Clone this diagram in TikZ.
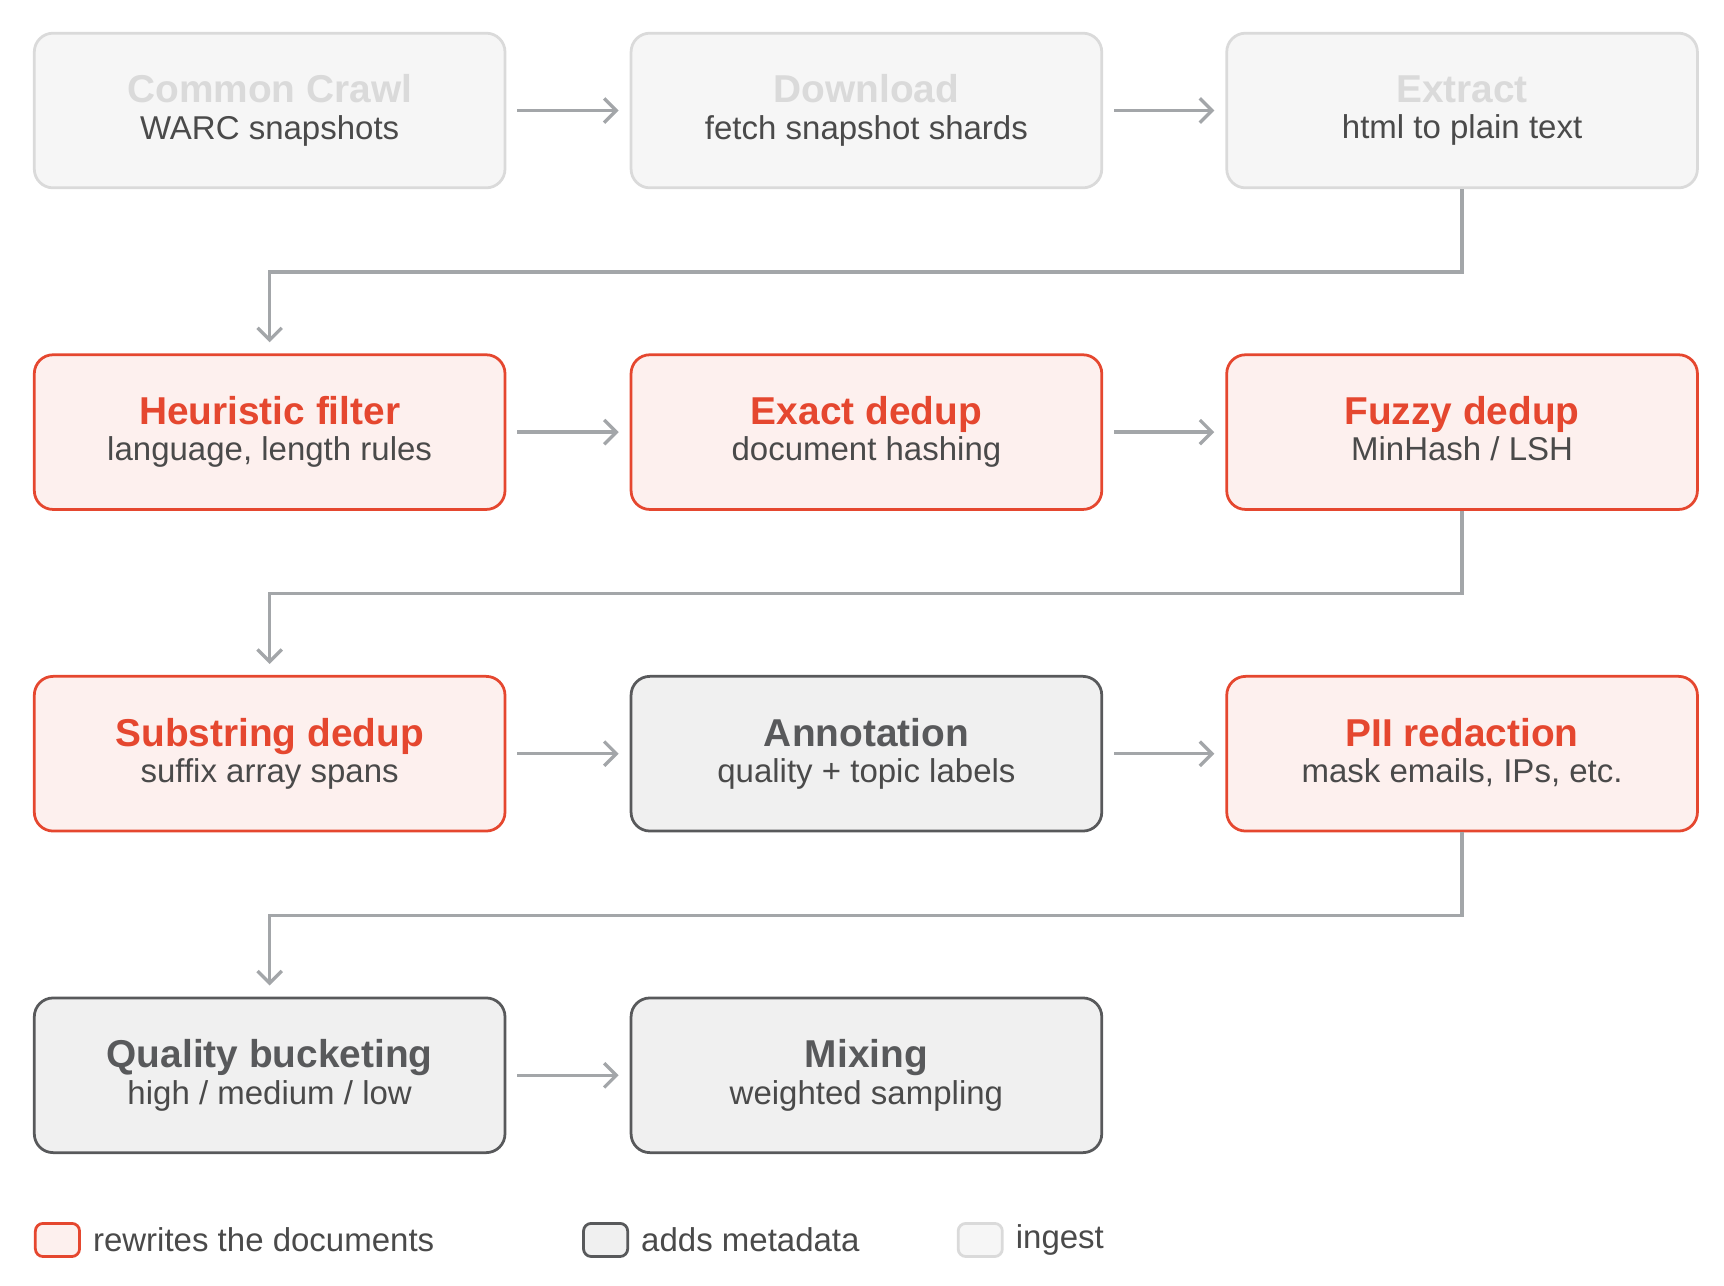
\documentclass[tikz,border=0pt]{standalone}
\usepackage{fontspec}
\setmainfont{Liberation Sans}
\usetikzlibrary{arrows.meta}
\definecolor{rwline}{HTML}{E5472F}
\definecolor{rwfill}{HTML}{FDF0EE}
\definecolor{mdline}{HTML}{58595B}
\definecolor{mdfill}{HTML}{F0F0F0}
\definecolor{inline}{HTML}{DADADA}
\definecolor{infill}{HTML}{F6F6F6}
\definecolor{wire}{HTML}{A3A6A9}
\definecolor{subtxt}{HTML}{4A4A4A}
\tikzset{
  stage/.style={draw, line width=0.05cm, rounded corners=0.34cm,
    minimum width=8.52cm, minimum height=2.8cm, inner sep=0cm},
  rewrite/.style={stage, color=rwline, fill=rwfill},
  meta/.style={stage, color=mdline, fill=mdfill},
  ingest/.style={stage, color=inline, fill=infill},
  flow/.style={draw=wire, line width=0.06cm, -{Straight Barb[length=0.22cm,width=0.44cm]}},
  key/.style={draw, line width=0.05cm, rounded corners=0.14cm, minimum width=0.8cm, minimum height=0.6cm},
}
\newcommand{\stagetext}[2]{\begin{tabular}{c}{\fontsize{20}{24}\selectfont\textbf{#1}}\\[0.1cm]{\fontsize{17}{20}\selectfont\color{subtxt}#2}\end{tabular}}
\begin{document}
\begin{tikzpicture}[x=0.02cm, y=-0.02cm]
\useasboundingbox (0,0) rectangle (1560,1163);

% row 1
\node[ingest] (crawl) at (244,100) {\stagetext{Common Crawl}{WARC snapshots}};
\node[ingest] (down) at (784,100) {\stagetext{Download}{fetch snapshot shards}};
\node[ingest] (extr) at (1323,100) {\stagetext{Extract}{html to plain text}};
% row 2
\node[rewrite] (heur) at (244,391) {\stagetext{Heuristic filter}{language, length rules}};
\node[rewrite] (exact) at (784,391) {\stagetext{Exact dedup}{document hashing}};
\node[rewrite] (fuzzy) at (1323,391) {\stagetext{Fuzzy dedup}{MinHash / LSH}};
% row 3
\node[rewrite] (subs) at (244,682) {\stagetext{Substring dedup}{suffix array spans}};
\node[meta] (annot) at (784,682) {\stagetext{Annotation}{quality + topic labels}};
\node[rewrite] (pii) at (1323,682) {\stagetext{PII redaction}{mask emails, IPs, etc.}};
% row 4
\node[meta] (qual) at (244,973) {\stagetext{Quality bucketing}{high / medium / low}};
\node[meta] (mix) at (784,973) {\stagetext{Mixing}{weighted sampling}};

% connectors
\foreach \a/\b in {crawl/down, down/extr, heur/exact, exact/fuzzy, subs/annot, annot/pii, qual/mix}
  \draw[flow, shorten <=0.2cm, shorten >=0.2cm] (\a) -- (\b);
\draw[flow, shorten >=0.2cm] (extr.south) |- ([yshift=-1.5cm]extr.south -| heur.north) -- (heur.north);
\draw[flow, shorten >=0.2cm] (fuzzy.south) |- ([yshift=-1.5cm]fuzzy.south -| subs.north) -- (subs.north);
\draw[flow, shorten >=0.2cm] (pii.south) |- ([yshift=-1.5cm]pii.south -| qual.north) -- (qual.north);

% legend
\node[key, color=rwline, fill=rwfill] (krw) at (52,1122) {};
\node[anchor=west, font=\fontsize{17}{20}\selectfont, text=subtxt] (lrw) at (78,1122) {rewrites the documents};
\node[key, color=mdline, fill=mdfill] (kmd) at (548,1122) {};
\node[anchor=west, font=\fontsize{17}{20}\selectfont, text=subtxt] (lmd) at (574,1122) {adds metadata};
\node[key, color=inline, fill=infill] (kin) at (887,1122) {};
\node[anchor=west, font=\fontsize{17}{20}\selectfont, text=subtxt] (lin) at (913,1122) {ingest};
\end{tikzpicture}
\end{document}
